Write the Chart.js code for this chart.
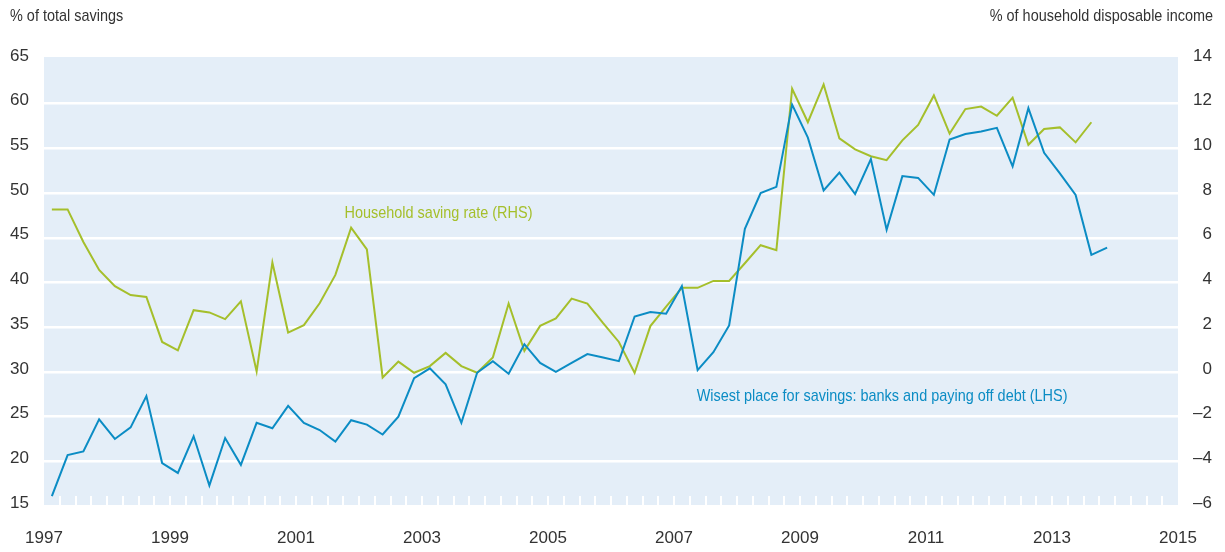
<!DOCTYPE html>
<html>
<head>
<meta charset="utf-8">
<script src="https://cdn.jsdelivr.net/npm/chart.js@4"></script>
<style>
  html, body { margin: 0; padding: 0; background: #fff; }
  #wrap { width: 1225px; height: 552px; }
</style>
</head>
<body>
<div id="wrap"><canvas id="savingsChart" width="1225" height="552"></canvas></div>
<script>
// quarterly observations, 1997Q1 onwards
const startYear = 1997;
const quarters = [];
for (let y = 1997; y <= 2014; y++) {
  for (let q = 1; q <= 4; q++) quarters.push(y + 'Q' + q);
}

// LHS: % of total savings
const wisestPlace = [
  16.1, 20.7, 21.1, 24.7, 22.5, 23.8, 27.3, 19.8, 18.7, 22.8, 17.3, 22.6,
  19.6, 24.3, 23.7, 26.2, 24.3, 23.5, 22.2, 24.6, 24.1, 23.0, 25.0, 29.3,
  30.4, 28.6, 24.3, 29.9, 31.2, 29.8, 33.1, 31.0, 30.0, 31.0, 32.0, 31.6,
  31.2, 36.2, 36.7, 36.5, 39.6, 30.2, 32.2, 35.2, 46.0, 50.0, 50.7, 59.9,
  56.2, 50.3, 52.3, 49.9, 53.8, 45.9, 51.9, 51.7, 49.8, 56.0, 56.6, 56.9,
  57.3, 53.0, 59.5, 54.5, 52.2, 49.8, 43.1, 43.9
];

// RHS: % of household disposable income
const savingRate = [
  7.27, 7.27, 5.81, 4.56, 3.84, 3.44, 3.35, 1.34, 0.96, 2.76, 2.66, 2.36,
  3.16, 0.02, 4.89, 1.76, 2.09, 3.07, 4.34, 6.45, 5.48, -0.25, 0.46, -0.04,
  0.26, 0.85, 0.26, -0.04, 0.65, 3.06, 0.94, 2.06, 2.39, 3.28, 3.06, 2.18,
  1.34, -0.05, 2.05, 2.92, 3.76, 3.76, 4.07, 4.07, 4.86, 5.67, 5.45, 12.67,
  11.17, 12.86, 10.45, 9.96, 9.65, 9.47, 10.36, 11.05, 12.37, 10.66, 11.76, 11.87,
  11.46, 12.27, 10.16, 10.87, 10.94, 10.27, 11.17
];

const leftTicks = [15, 20, 25, 30, 35, 40, 45, 50, 55, 60, 65];
const rightTicks = [-6, -4, -2, 0, 2, 4, 6, 8, 10, 12, 14];
const yearLabels = [1997, 1999, 2001, 2003, 2005, 2007, 2009, 2011, 2013, 2015];

const BLUE = '#0b8cc4';
const GREEN = '#a5bf2b';
const TEXT = '#333333';

// quarter label -> mid-quarter position on the year axis
function quarterPos(label) {
  const y = parseInt(label.slice(0, 4), 10);
  const q = parseInt(label.slice(5), 10);
  return y + (q - 0.5) / 4;
}
function toPoints(values) {
  return values.map((v, i) => ({ x: quarterPos(quarters[i]), y: v }));
}

Chart.defaults.font.family = "'Liberation Sans', Arial, sans-serif";
Chart.defaults.font.size = 17;
Chart.defaults.color = TEXT;

// no condensed face installed: squeeze free text horizontally
function narrowText(ctx, text, x, y, align, color) {
  const squeeze = 0.85;
  ctx.save();
  ctx.fillStyle = color;
  ctx.textAlign = align;
  ctx.textBaseline = 'middle';
  ctx.font = "17px 'Liberation Sans', Arial, sans-serif";
  ctx.translate(x, y);
  ctx.scale(squeeze, 1);
  ctx.fillText(text, 0, 0);
  ctx.restore();
}

const decor = {
  id: 'decor',
  beforeDraw(chart) {
    const { ctx, chartArea: a } = chart;
    ctx.save();
    ctx.fillStyle = '#e4eef8';
    ctx.fillRect(a.left, a.top - 2, a.right - a.left, a.bottom - a.top + 1);
    ctx.restore();
  },
  beforeDatasetsDraw(chart) {
    // white quarterly tick marks along the bottom of the plot
    const { ctx, chartArea: a, scales } = chart;
    const x = scales.x;
    ctx.save();
    ctx.strokeStyle = '#ffffff';
    ctx.lineWidth = 2;
    for (let t = startYear + 0.25; t < 2015; t += 0.25) {
      const px = Math.round(x.getPixelForValue(t));
      ctx.beginPath();
      ctx.moveTo(px, a.bottom - 1);
      ctx.lineTo(px, a.bottom - 10);
      ctx.stroke();
    }
    ctx.restore();
  },
  afterDraw(chart) {
    const { ctx, scales } = chart;
    narrowText(ctx, '% of total savings', 10, 16, 'left', TEXT);
    narrowText(ctx, '% of household disposable income', 1213, 16, 'right', TEXT);
    narrowText(ctx, 'Household saving rate (RHS)',
      scales.x.getPixelForValue(2001.77), scales.y2.getPixelForValue(7.1), 'left', GREEN);
    narrowText(ctx, 'Wisest place for savings: banks and paying off debt (LHS)',
      scales.x.getPixelForValue(2007.36), scales.y.getPixelForValue(27.3), 'left', BLUE);
  }
};

new Chart(document.getElementById('savingsChart').getContext('2d'), {
  type: 'line',
  data: {
    datasets: [{
      label: 'Wisest place for savings: banks and paying off debt (LHS)',
      data: toPoints(wisestPlace),
      borderColor: BLUE,
      borderWidth: 2,
      pointRadius: 0,
      tension: 0,
      yAxisID: 'y'
    }, {
      label: 'Household saving rate (RHS)',
      data: toPoints(savingRate),
      borderColor: GREEN,
      borderWidth: 2,
      pointRadius: 0,
      tension: 0,
      yAxisID: 'y2'
    }]
  },
  options: {
    responsive: false,
    animation: false,
    layout: { padding: { left: 10, right: 13, top: 59, bottom: 0 } },
    plugins: {
      legend: { display: false },
      tooltip: { enabled: false }
    },
    scales: {
      x: {
        type: 'linear',
        min: 1997,
        max: 2015,
        grid: { display: false, drawTicks: false },
        border: { display: false },
        afterBuildTicks: (s) => { s.ticks = yearLabels.map(v => ({ value: v })); },
        ticks: {
          padding: 22,
          maxRotation: 0,
          autoSkip: false,
          callback: (v) => String(v)
        },
        afterFit: (s) => { s.height = 46; }
      },
      y: {
        position: 'left',
        min: 15,
        max: 65,
        afterBuildTicks: (s) => { s.ticks = leftTicks.map(v => ({ value: v })); },
        grid: {
          color: (c) => (c.tick && (c.tick.value === 15 || c.tick.value === 65)) ? 'rgba(0,0,0,0)' : '#ffffff',
          lineWidth: 2.5,
          drawTicks: false
        },
        border: { display: false },
        ticks: { crossAlign: 'far', padding: 0, labelOffset: -3 },
        afterFit: (s) => { s.width = 34; }
      },
      y2: {
        position: 'right',
        min: -6,
        max: 14,
        afterBuildTicks: (s) => { s.ticks = rightTicks.map(v => ({ value: v })); },
        grid: { display: false, drawTicks: false },
        border: { display: false },
        ticks: {
          crossAlign: 'far',
          padding: 0,
          labelOffset: -3,
          callback: (v) => v < 0 ? '\u2013' + Math.abs(v) : String(v)
        },
        afterFit: (s) => { s.width = 34; }
      }
    }
  },
  plugins: [decor]
});
</script>
</body>
</html>
